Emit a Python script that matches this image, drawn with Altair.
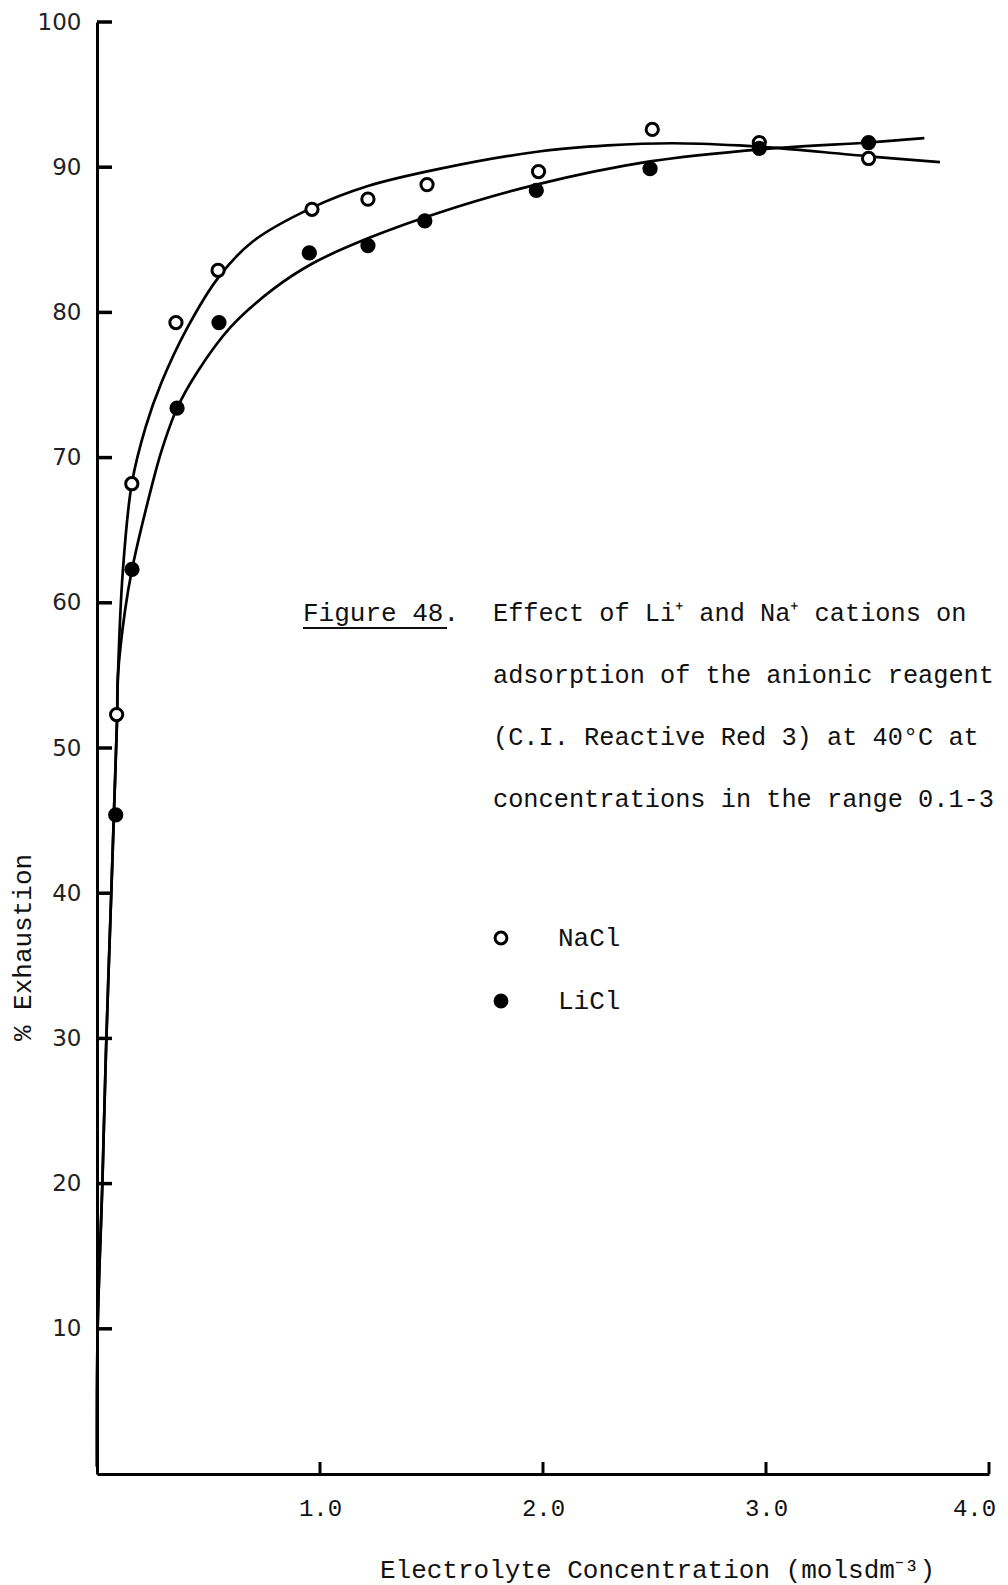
import altair as alt
import pandas as pd

nacl_x = [0.088, 0.156, 0.354, 0.543, 0.964, 1.215, 1.48, 1.98, 2.49, 2.97, 3.46]
nacl_y = [52.3, 68.2, 79.3, 82.9, 87.1, 87.8, 88.8, 89.7, 92.6, 91.7, 90.6]
licl_x = [0.084, 0.157, 0.359, 0.547, 0.952, 1.215, 1.47, 1.97, 2.48, 2.97, 3.46]
licl_y = [45.4, 62.3, 73.4, 79.3, 84.1, 84.6, 86.3, 88.4, 89.9, 91.3, 91.7]

# ---- hand-drawn fitted curves ----
low_x = [0.0, 0.003, 0.024, 0.040, 0.064, 0.077, 0.090, 0.094]
low_y = [0.5, 10.0, 20.0, 29.0, 40.0, 46.0, 52.0, 55.0]
nacl_cx = [0.115, 0.156, 0.22, 0.29, 0.40, 0.544, 0.70, 0.963, 1.215, 1.54, 1.99, 2.29, 2.58, 2.88, 3.03, 3.46, 3.78]
nacl_cy = [62.0, 68.2, 72.2, 75.2, 78.8, 82.4, 84.9, 87.2, 88.7, 89.9, 91.1, 91.5, 91.65, 91.5, 91.35, 90.75, 90.35]
licl_cx = [0.126, 0.157, 0.245, 0.29, 0.359, 0.45, 0.60, 0.79, 0.97, 1.215, 1.54, 1.97, 2.48, 3.03, 3.46, 3.71]
licl_cy = [59.5, 62.3, 68.0, 70.5, 73.4, 75.9, 79.0, 81.6, 83.4, 85.1, 86.9, 88.8, 90.4, 91.3, 91.7, 92.0]

y_ticks = [10, 20, 30, 40, 50, 60, 70, 80, 90, 100]
x_ticks = [1.0, 2.0, 3.0, 4.0]

caption_head = "Figure 48."
caption_lines = [
    "Effect of Li\u207a and Na\u207a cations on",
    "adsorption of the anionic reagent",
    "(C.I. Reactive Red 3) at 40\u00b0C at",
    "concentrations in the range 0.1-3",
]

pts = pd.DataFrame({
    "x": nacl_x + licl_x,
    "y": nacl_y + licl_y,
    "salt": ["NaCl"] * len(nacl_x) + ["LiCl"] * len(licl_x),
})
curves = pd.DataFrame({
    "x": low_x + nacl_cx + low_x + licl_cx,
    "y": low_y + nacl_cy + low_y + licl_cy,
    "salt": ["NaCl"] * (len(low_x) + len(nacl_cx)) + ["LiCl"] * (len(low_x) + len(licl_cx)),
})

W, H = 892, 1452
MONO = "Liberation Mono"

xs = alt.Scale(domain=[0, 4], nice=False, zero=False)
ys = alt.Scale(domain=[0, 100], nice=False)

x_axis = alt.Axis(
    values=x_ticks, format=".1f", ticks=False, tickSize=0, grid=False,
    domainColor="black", domainWidth=3,
    labelFont=MONO, labelFontSize=24, labelColor="#111", labelPadding=22,
    labelFlush=False, labelOverlap=False,
    labelOffset=alt.condition("datum.value == 4", alt.value(-15), alt.value(0)),
    title="Electrolyte Concentration (molsdm\u207b\u00b3)",
    titleFont=MONO, titleFontSize=26, titleFontWeight="normal", titleColor="#111",
    titleX=560, titleY=95, titleAlign="center", titleBaseline="middle",
)
y_axis = alt.Axis(
    values=y_ticks, ticks=False, tickSize=0, grid=False,
    domainColor="black", domainWidth=3,
    labelFont="DejaVu Sans", labelFontSize=23, labelColor="#222", labelPadding=16,
    labelFlush=False, labelOverlap=False,
    title="% Exhaustion",
    titleFont=MONO, titleFontSize=26, titleFontWeight="normal", titleColor="#111",
    titleX=-75, titleY=925, titleAngle=270, titleAlign="center", titleBaseline="middle",
)

X = alt.X("x:Q", scale=xs, axis=x_axis)
Y = alt.Y("y:Q", scale=ys, axis=y_axis)

lines = alt.Chart(curves).mark_line(
    color="black", strokeWidth=2.7, interpolate="catmull-rom"
).encode(x=X, y=Y, detail="salt:N")

points = alt.Chart(pts).mark_point(
    filled=True, shape="circle", size=150, stroke="black", strokeWidth=3, opacity=1
).encode(
    x=X, y=Y,
    fill=alt.Fill(
        "salt:N",
        scale=alt.Scale(domain=["NaCl", "LiCl"], range=["white", "black"]),
        legend=alt.Legend(
            title=None, orient="none", legendX=391, legendY=903, direction="vertical",
            labelFont=MONO, labelFontSize=26, labelColor="#111",
            symbolType="circle", symbolSize=140, symbolStrokeColor="black",
            symbolStrokeWidth=3, rowPadding=37, labelOffset=44, padding=0,
        ),
    ),
)

ytick_df = pd.DataFrame({"y": y_ticks})
yticks = alt.Chart(ytick_df).mark_rule(color="black", strokeWidth=3.5).encode(
    y=Y, x=alt.value(0), x2=alt.value(15)
)
xtick_df = pd.DataFrame({"x": x_ticks})
xticks = alt.Chart(xtick_df).mark_rule(color="black", strokeWidth=3).encode(
    x=X, y=alt.value(H), y2=alt.value(H - 12)
)

one = pd.DataFrame({"a": [0]})
head = alt.Chart(one).mark_text(
    text=caption_head, align="left", baseline="middle", font=MONO, fontSize=26, color="#111"
).encode(x=alt.value(206), y=alt.value(591))
underline = alt.Chart(one).mark_rule(color="#111", strokeWidth=2).encode(
    x=alt.value(206), x2=alt.value(350), y=alt.value(606)
)
body = alt.Chart(one).mark_text(
    text=caption_lines, align="left", baseline="middle", font=MONO, fontSize=25.3,
    lineHeight=62, color="#111"
).encode(x=alt.value(396), y=alt.value(591))

chart = alt.layer(lines, points, yticks, xticks, head, underline, body).properties(
    width=W, height=H,
    autosize=alt.AutoSizeParams(type="none"),
    padding={"left": 89, "top": 14, "right": 11, "bottom": 110},
    background="white",
).configure_view(stroke=None)

chart.save("out.html", embed_options={"renderer": "svg", "actions": False})
